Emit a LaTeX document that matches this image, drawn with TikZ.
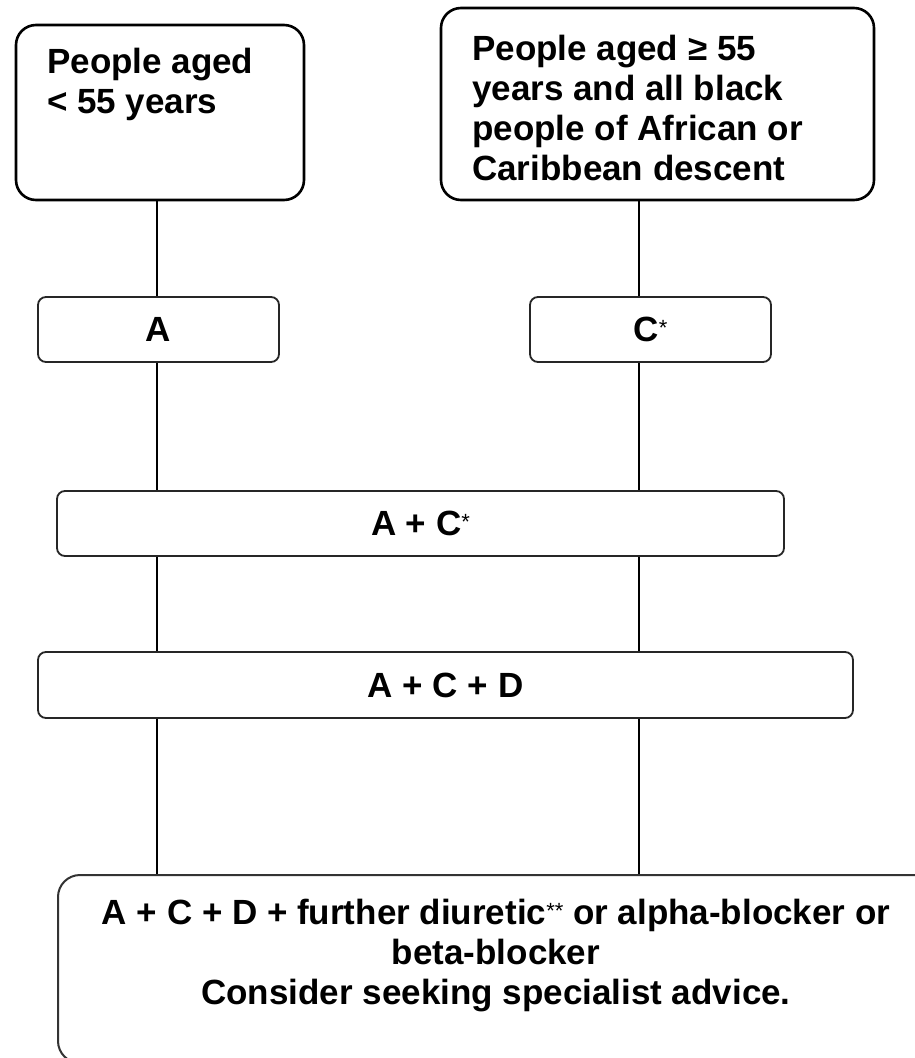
\documentclass[tikz,border=0pt]{standalone}
\usepackage{fontspec}
\setmainfont{Liberation Sans}
\newcommand{\smallstar}{{\fontsize{22}{22}\selectfont\mdseries\raisebox{6pt}{*}}}
\begin{document}
\begin{tikzpicture}[x=1pt,y=-1pt,
  bigbox/.style={draw=black, line width=2.6pt, rounded corners=20pt, fill=white, inner sep=0pt},
  smallbox/.style={draw=black!85, line width=1.8pt, rounded corners=8pt, fill=white, inner sep=0pt,
    font=\fontsize{35}{40}\selectfont\bfseries},
  finalbox/.style={draw=black!80, line width=2pt, rounded corners=22pt, fill=white, inner sep=0pt},
  txt/.style={inner sep=0pt, font=\fontsize{35}{40}\selectfont\bfseries},
  conn/.style={draw=black, line width=1.4pt}]
\useasboundingbox (0,0) rectangle (915,1058);
\clip (0,0) rectangle (915,1058);
\fill[white] (0,0) rectangle (915,1058);
\coordinate (L) at (157,0);
\coordinate (R) at (639,0);
% boxes
\node[bigbox, minimum width=288pt, minimum height=175pt] (b1) at (160,112.5) {};
\node[bigbox, minimum width=433pt, minimum height=192pt] (b2) at (657.5,104) {};
\node[smallbox, minimum width=241pt, minimum height=65pt] (bA) at (158.5,329.5) {A};
\node[smallbox, minimum width=241pt, minimum height=65pt] (bC) at (650.5,329.5) {C\smallstar};
\node[smallbox, minimum width=727pt, minimum height=65pt] (bAC) at (420.5,523.5) {A + C\smallstar};
\node[smallbox, minimum width=815pt, minimum height=66pt] (bACD) at (445.5,685) {A + C + D};
\node[finalbox, minimum width=880pt, minimum height=188pt] (bF) at (498,969) {};
% texts
\node[txt, anchor=north west, align=left] (t1) at (47,48) {People aged\\< 55 years};
\node[txt, anchor=north west, align=left] (t2) at (472,35) {People aged ≥ 55\\years and all black\\people of African or\\Caribbean descent};
\node[txt, anchor=north, align=center] (tF) at (496,899) {A + C + D + further diuretic\smallstar\smallstar{} or alpha-blocker or\\beta-blocker\\Consider seeking specialist advice.};
% connectors
\draw[conn] (b1.south -| L) -- (bA.north -| L);
\draw[conn] (b2.south -| R) -- (bC.north -| R);
\draw[conn] (bA.south -| L) -- (bAC.north -| L);
\draw[conn] (bC.south -| R) -- (bAC.north -| R);
\draw[conn] (bAC.south -| L) -- (bACD.north -| L);
\draw[conn] (bAC.south -| R) -- (bACD.north -| R);
\draw[conn] (bACD.south -| L) -- (bF.north -| L);
\draw[conn] (bACD.south -| R) -- (bF.north -| R);
\end{tikzpicture}
\end{document}
